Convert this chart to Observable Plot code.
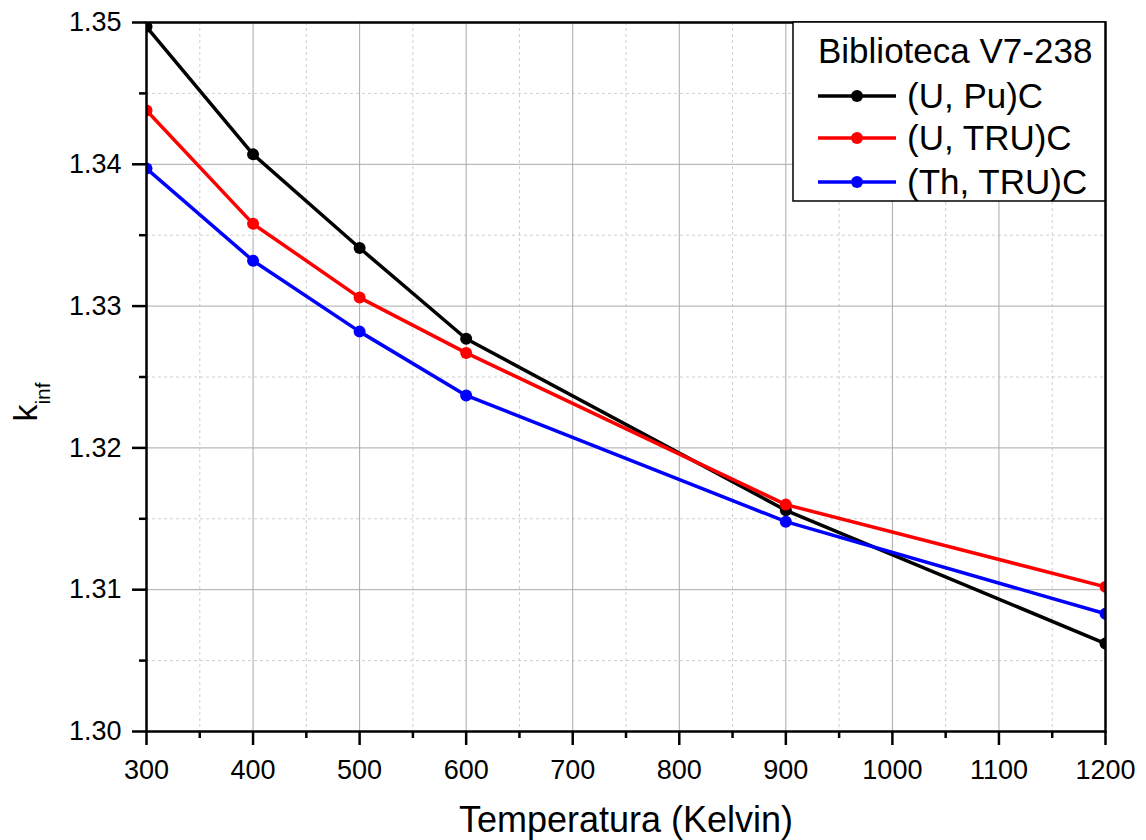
<!DOCTYPE html>
<html><head><meta charset="utf-8">
<script src="https://cdn.jsdelivr.net/npm/d3@7"></script>
<script src="https://cdn.jsdelivr.net/npm/@observablehq/plot@0.6"></script>
<style>body{margin:0;background:#fff} svg{display:block}</style>
</head><body><div id="chart"></div>
<script>
const temps = [300, 400, 500, 600, 900, 1200];
const kUPu = [1.3497, 1.3407, 1.3341, 1.3277, 1.3156, 1.3062];
const kUTRU = [1.3438, 1.3358, 1.3306, 1.3267, 1.3160, 1.3102];
const kThTRU = [1.3397, 1.3332, 1.3282, 1.3237, 1.3148, 1.3083];
const seriesNames = ["(U, Pu)C", "(U, TRU)C", "(Th, TRU)C"];
const seriesColors = ["#000000", "#ff0000", "#0000ff"];
const xTicks = [300, 400, 500, 600, 700, 800, 900, 1000, 1100, 1200];
const xMinor = [350, 450, 550, 650, 750, 850, 950, 1050, 1150];
const yTicks = [1.30, 1.31, 1.32, 1.33, 1.34, 1.35];
const yMinor = [1.305, 1.315, 1.325, 1.335, 1.345];
const legendTitle = "Biblioteca V7-238";
const xLabel = "Temperatura (Kelvin)";
const yLabelMain = "k";
const yLabelSub = "inf";

const allSeries = [kUPu, kUTRU, kThTRU];
const data = [];
allSeries.forEach((vals, i) => vals.forEach((v, j) => data.push({series: seriesNames[i], T: temps[j], k: v})));

const W = 1146, H = 840;
const font = "'Liberation Sans', Arial, Helvetica, sans-serif";

const chart = Plot.plot({
  width: W, height: H,
  marginLeft: 146, marginRight: 41, marginTop: 22, marginBottom: 109,
  style: {fontFamily: font, background: "#fff", color: "#000"},
  x: {domain: [300, 1200], axis: null},
  y: {domain: [1.30, 1.35], axis: null},
  color: {domain: seriesNames, range: seriesColors},
  marks: [
    Plot.ruleX(xMinor, {stroke: "#cfcfcf", strokeDasharray: "3,3", strokeWidth: 1}),
    Plot.ruleY(yMinor, {stroke: "#cfcfcf", strokeDasharray: "3,3", strokeWidth: 1}),
    Plot.ruleX(xTicks, {stroke: "#a9a9a9", strokeWidth: 1}),
    Plot.ruleY(yTicks, {stroke: "#a9a9a9", strokeWidth: 1}),
    Plot.line(data, {x: "T", y: "k", z: "series", stroke: "series", strokeWidth: 3.5, clip: true}),
    Plot.dot(data, {x: "T", y: "k", fill: "series", r: 6, clip: true}),
    Plot.frame({stroke: "#000", strokeWidth: 2.5}),
    Plot.axisX(xTicks, {tickSize: 14, tickPadding: 14, fontSize: 27, strokeWidth: 2.5, label: null, tickFormat: d => String(d)}),
    Plot.axisX(xMinor, {tickSize: 7, strokeWidth: 2.5, label: null, tickFormat: () => ""}),
    Plot.axisY(yTicks, {tickSize: 14, tickPadding: 11, fontSize: 27, strokeWidth: 2.5, label: null, tickFormat: d3.format(".2f")}),
    Plot.axisY(yMinor, {tickSize: 7, strokeWidth: 2.5, label: null, tickFormat: () => ""}),
    Plot.text([xLabel], {frameAnchor: "bottom", dy: 100, fontSize: 36, fill: "#000"})
  ]
});

document.getElementById("chart").appendChild(chart);
const svg = d3.select(chart);

// y-axis title with subscript
const yt = svg.append("text")
  .attr("transform", "translate(37,402) rotate(-90)")
  .attr("text-anchor", "middle")
  .attr("font-family", font)
  .attr("fill", "#000");
yt.append("tspan").attr("font-size", 34).text(yLabelMain);
yt.append("tspan").attr("font-size", 21).attr("dy", 13).text(yLabelSub);

// legend
const lg = svg.append("g").attr("font-family", font).attr("text-anchor", "start");
lg.append("rect").attr("x", 793).attr("y", 22).attr("width", 312).attr("height", 179)
  .attr("fill", "#fff").attr("stroke", "#000").attr("stroke-width", 1.5);
lg.append("text").attr("x", 818).attr("y", 63).attr("font-size", 35).attr("fill", "#000").text(legendTitle);
const rowY = [96, 138, 182];
seriesNames.forEach((name, i) => {
  lg.append("line").attr("x1", 818).attr("x2", 896).attr("y1", rowY[i]).attr("y2", rowY[i])
    .attr("stroke", seriesColors[i]).attr("stroke-width", 3.5);
  lg.append("circle").attr("cx", 857).attr("cy", rowY[i]).attr("r", 6).attr("fill", seriesColors[i]);
  lg.append("text").attr("x", 907).attr("y", rowY[i] + 12).attr("font-size", 35).attr("fill", "#000").text(name);
});
</script>
</body></html>
